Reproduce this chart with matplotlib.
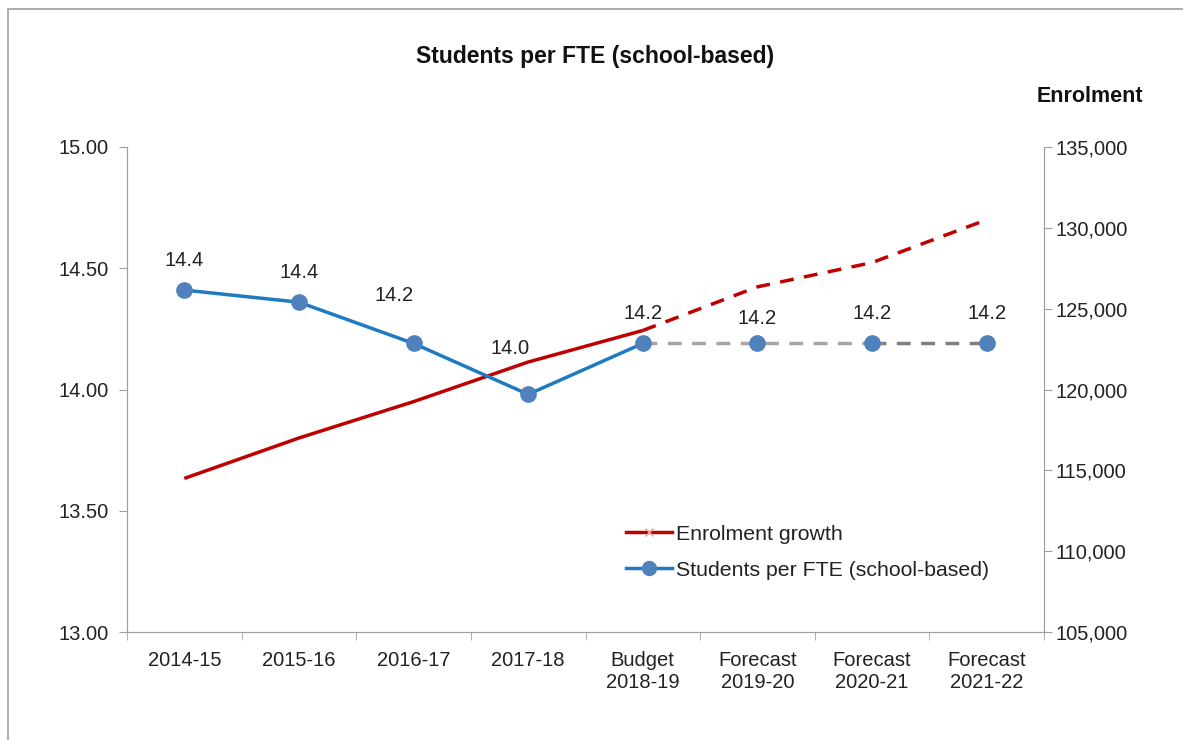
import matplotlib
matplotlib.use("Agg")
import matplotlib.pyplot as plt
from matplotlib.lines import Line2D
from matplotlib.patches import Rectangle
import numpy as np

categories = ["2014-15", "2015-16", "2016-17", "2017-18", "Budget\n2018-19",
              "Forecast\n2019-20", "Forecast\n2020-21", "Forecast\n2021-22"]
students_per_fte = [14.41, 14.36, 14.19, 13.98, 14.19, 14.19, 14.19, 14.19]
labels = ["14.4", "14.4", "14.2", "14.0", "14.2", "14.2", "14.2", "14.2"]
enrolment = [114500, 117000, 119250, 121700, 123650, 126350, 127850, 130500]

plt.rcParams['font.family'] = ['Liberation Sans', 'DejaVu Sans']
fig = plt.figure(figsize=(11.83, 7.4), dpi=100)
W, H = 1183, 740
ax = fig.add_axes([127 / W, 1 - 632 / H, (1044 - 127) / W, (632 - 147) / H])
ax2 = ax.twinx()

x = np.arange(len(categories))
blue = "#1F7BC1"
mblue = "#4F81BD"
red = "#C00000"
FS = 14.5

# Enrolment (right axis)
ax2.plot(x[:5], enrolment[:5], color=red, lw=2.5, solid_capstyle='butt')
ax2.plot(x[4:], enrolment[4:], color=red, lw=2.5, ls=(0, (4, 3)))
ax2.set_ylim(105000, 135000)
ax2.set_yticks(np.arange(105000, 135001, 5000))
ax2.set_yticklabels([f"{v:,}" for v in range(105000, 135001, 5000)])

# Students per FTE (left axis)
ax.set_zorder(ax2.get_zorder() + 1)
ax.patch.set_visible(False)
ax.plot(x[:5], students_per_fte[:5], color=blue, lw=2.5)
ax.plot(x[4:7], students_per_fte[4:7], color="#A6A6A6", lw=2.5, ls=(0, (4, 3)))
ax.plot(x[6:], students_per_fte[6:], color="#7F7F7F", lw=2.5, ls=(0, (4, 3)))
ax.plot(x, students_per_fte, ls='none', marker='o', ms=11, color=mblue, zorder=5)
ax.set_ylim(13.0, 15.0)
ax.set_yticks(np.arange(13.0, 15.01, 0.5))
ax.set_yticklabels([f"{v:.2f}" for v in np.arange(13.0, 15.01, 0.5)])
ax.set_xlim(-0.5, len(categories) - 0.5)
ax.set_xticks(x)
ax.set_xticklabels(categories)
ax.set_xticks(np.arange(-0.5, len(categories)), minor=True)
ax.tick_params(axis='x', which='major', length=0, pad=14)
ax.tick_params(axis='x', which='minor', length=6, color="#A0A0A0")

label_offsets = [(0, 20), (0, 20), (-20, 38), (-18, 36), (0, 20), (0, 15), (0, 20), (0, 20)]
for xi, yi, lab, (dx, dy) in zip(x, students_per_fte, labels, label_offsets):
    ax.annotate(lab, (xi, yi), xytext=(dx * 0.72, dy * 0.72), textcoords='offset points',
                ha='center', va='bottom', fontsize=FS, color="#222222")

for a in (ax, ax2):
    a.spines['top'].set_visible(False)
    for s in ('left', 'right', 'bottom'):
        a.spines[s].set_color("#A0A0A0")
    a.tick_params(axis='y', length=6, color="#A0A0A0", labelsize=FS, labelcolor="#222222")
    a.tick_params(axis='x', labelsize=FS, labelcolor="#222222")
ax.tick_params(axis='y', pad=7)
ax2.tick_params(axis='y', pad=2)

fig.text(595 / W, 1 - 57 / H, "Students per FTE (school-based)", ha='center', va='center',
         fontsize=16.5, fontweight='bold', color="#111111")
fig.text(1143 / W, 1 - 96 / H, "Enrolment", ha='right', va='center',
         fontsize=15.5, fontweight='bold', color="#111111")

handles = [Line2D([], [], color=red, lw=2.5, marker='x', ms=6, mec="#E8A0A0"),
           Line2D([], [], color=blue, lw=2.5, marker='o', ms=10, mfc=mblue, mec=mblue)]
leg = ax.legend(handles, ["Enrolment growth", "Students per FTE (school-based)"],
                loc='upper left', bbox_to_anchor=(615 / W, 1 - 514 / H),
                bbox_transform=fig.transFigure, frameon=False, fontsize=15.3,
                handlelength=2.2, handletextpad=0.15, labelspacing=0.8, borderpad=0)
for t in leg.get_texts():
    t.set_color("#222222")

fig.patches.append(Rectangle((8 / W, 0 - 10 / H), 1.2, 1 - 9 / H + 10 / H, transform=fig.transFigure,
                             fill=False, edgecolor="#A0A0A0", lw=1.2))

fig.savefig("out.png", dpi=100)
